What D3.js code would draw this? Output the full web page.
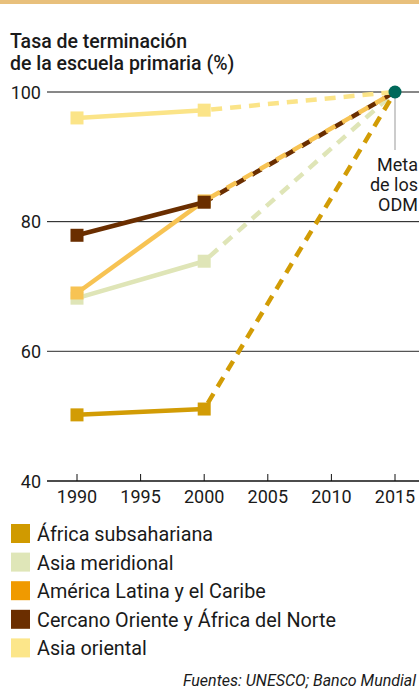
<!DOCTYPE html>
<html>
<head>
<meta charset="utf-8">
<script src="https://cdn.jsdelivr.net/npm/d3@7"></script>
<style>
  body { margin: 0; background: #fff; }
  svg { display: block; font-family: Roboto, "Open Sans", sans-serif; }
</style>
</head>
<body>
<svg id="chart"></svg>
<script>
// data
const years = [1990, 2000];
const targetYear = 2015;
const targetValue = 100;
const xTicks = [1990, 1995, 2000, 2005, 2010, 2015];
const yTicks = [40, 60, 80, 100];

const regions = ["África subsahariana", "Asia meridional", "América Latina y el Caribe",
                 "Cercano Oriente y África del Norte", "Asia oriental"];
const africaSub = [50.2, 51.1];
const asiaMer = [68.2, 73.9];
const americaLat = [69, 83.2];
const cercanoOr = [77.9, 83];
const asiaOr = [96, 97.2];
const seriesValues = [africaSub, asiaMer, americaLat, cercanoOr, asiaOr];

const lineColors = ["#d29c05", "#dfe5b7", "#f7c353", "#6a2e00", "#fbe488"];
const legendColors = ["#d09a00", "#dfe6b8", "#f09a00", "#6b2e00", "#fce68a"];

const W = 419, H = 697;
const svg = d3.select("#chart").attr("width", W).attr("height", H);

// tan top band
svg.append("rect").attr("x", 0).attr("y", 0).attr("width", W).attr("height", 4).attr("fill", "#e8c07c");

svg.append("text").attr("x", 10).attr("y", 48)
    .style("font-size", "19.5px").style("font-weight", 500).attr("fill", "#1a1a1a")
    .text("Tasa de terminación");
svg.append("text").attr("x", 10).attr("y", 70)
    .style("font-size", "19.5px").style("font-weight", 500).attr("fill", "#1a1a1a")
    .text("de la escuela primaria (%)");

const x = d3.scaleLinear().domain([1990, 2015]).range([77, 395]);
const y = d3.scaleLinear().domain([40, 100]).range([481, 92]);

// grid lines
svg.append("g").selectAll("line")
    .data(yTicks)
    .join("line")
    .attr("x1", 47).attr("x2", W)
    .attr("y1", d => y(d)).attr("y2", d => y(d))
    .attr("stroke", d => d == 60 ? "#555" : "#111")
    .attr("stroke-width", d => d == 40 ? 1.6 : (d == 60 ? 1.4 : 1));

svg.append("g").selectAll("text")
    .data(yTicks)
    .join("text")
    .attr("x", 41).attr("y", d => y(d) + 6.5)
    .attr("text-anchor", "end")
    .style("font-size", "18px").attr("fill", "#1a1a1a")
    .text(d => d);

// x axis ticks (upward) and labels
const xAxis = svg.append("g");
xAxis.selectAll("line")
    .data(xTicks)
    .join("line")
    .attr("x1", d => x(d)).attr("x2", d => x(d))
    .attr("y1", y(40) - 7).attr("y2", y(40))
    .attr("stroke", "#111").attr("stroke-width", 1);
xAxis.selectAll("text")
    .data(xTicks)
    .join("text")
    .attr("x", d => x(d)).attr("y", y(40) + 22)
    .attr("text-anchor", "middle")
    .style("font-size", "18px").attr("fill", "#1a1a1a")
    .text(d => d);

// target marker line and label
svg.append("line")
    .attr("x1", x(targetYear)).attr("x2", x(targetYear))
    .attr("y1", y(targetValue)).attr("y2", 150)
    .attr("stroke", "#aaa").attr("stroke-width", 1.2);
["Meta", "de los", "ODM"].forEach((t, i) => {
    svg.append("text").attr("x", 418).attr("y", 171 + i * 20)
        .attr("text-anchor", "end")
        .style("font-size", "18px").attr("fill", "#1a1a1a")
        .text(t);
});

const lineGen = d3.line().x(d => x(d[0])).y(d => y(d[1]));

// dashed projections first
const dashOffsets = [0, 0, 0, 9, 0];
const dashOrder = [1, 0, 3, 2, 4];
dashOrder.forEach(i => {
    const v = seriesValues[i];
    svg.append("path")
        .datum([[years[1], v[1]], [targetYear, targetValue]])
        .attr("d", lineGen)
        .attr("fill", "none")
        .attr("stroke", lineColors[i])
        .attr("stroke-width", 4.5)
        .attr("stroke-dasharray", "11,8")
        .attr("stroke-dashoffset", -7 + dashOffsets[i]);
});

// solid segments and square markers
const solidOrder = [4, 1, 2, 3, 0];
solidOrder.forEach(i => {
    const pts = years.map((yr, j) => [yr, seriesValues[i][j]]);
    svg.append("path")
        .datum(pts)
        .attr("d", lineGen)
        .attr("fill", "none")
        .attr("stroke", lineColors[i])
        .attr("stroke-width", 4.5);
    svg.append("g").selectAll("rect")
        .data(pts)
        .join("rect")
        .attr("x", d => x(d[0]) - 6.5).attr("y", d => y(d[1]) - 6.5)
        .attr("width", 13).attr("height", 13)
        .attr("fill", lineColors[i]);
});

svg.append("circle")
    .attr("cx", x(targetYear)).attr("cy", y(targetValue))
    .attr("r", 6.5).attr("fill", "#00695a");

// legend
const legend = svg.append("g").selectAll("g")
    .data(regions)
    .join("g")
    .attr("transform", (d, i) => `translate(11, ${524 + i * 28.6})`);
legend.append("rect")
    .attr("width", 19).attr("height", 19)
    .attr("fill", (d, i) => legendColors[i]);
legend.append("text")
    .attr("x", 26).attr("y", 17)
    .style("font-size", "19.8px").attr("fill", "#1a1a1a")
    .text(d => d);

svg.append("text").attr("x", 416).attr("y", 686)
    .attr("text-anchor", "end")
    .style("font-size", "16px").style("font-style", "italic").attr("fill", "#1a1a1a")
    .text("Fuentes: UNESCO; Banco Mundial");
</script>
</body>
</html>
